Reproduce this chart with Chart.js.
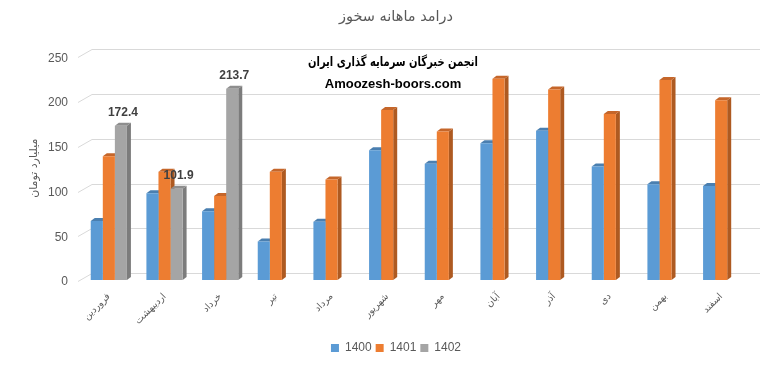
<!DOCTYPE html>
<html>
<head>
<meta charset="utf-8">
<script src="https://cdn.jsdelivr.net/npm/chart.js@4.4.1/dist/chart.umd.min.js"></script>
<style>
  html, body { margin: 0; padding: 0; background: #ffffff; }
  #wrap { width: 784px; height: 366px; }
</style>
</head>
<body>
<div id="wrap"><canvas id="c" width="784" height="366"></canvas></div>
<script>
const categories = ['فروردین', 'اردیبهشت', 'خرداد', 'تیر', 'مرداد', 'شهریور', 'مهر', 'آبان', 'آذر', 'دی', 'بهمن', 'اسفند'];
const seriesNames = ['1400', '1401', '1402'];
const values1400 = [66, 97, 77, 43, 65, 145, 130, 153, 167, 127, 107, 105];
const values1401 = [138.5, 121, 94, 121, 112.5, 190, 166, 225, 213, 185.5, 223.5, 201];
const values1402 = [172.4, 101.9, 213.7, null, null, null, null, null, null, null, null, null];
const yTickValues = [0, 50, 100, 150, 200, 250];
const chartTitle = 'درامد ماهانه سخوز';
const yAxisTitle = 'میلیارد تومان';
const watermark1 = 'انجمن خبرگان سرمایه گذاری ایران';
const watermark2 = 'Amoozesh-boors.com';

const frontColors = ['#5B9BD5', '#ED7D31', '#A5A5A5'];
const sideColors = ['#41719C', '#AE5A21', '#7C7C7C'];
const topColors = ['#4A7FB0', '#C5662A', '#8E8E8E'];

const threeD = {
  id: 'threeD',
  beforeDatasetsDraw(chart) {
    const ctx = chart.ctx;
    const ys = chart.scales.y;
    const area = chart.chartArea;
    ctx.save();
    ctx.strokeStyle = '#D9D9D9';
    ctx.lineWidth = 1;
    yTickValues.forEach(v => {
      const yf = Math.round(ys.getPixelForValue(v)) + 0.5;
      ctx.beginPath();
      ctx.moveTo(area.left - 3, yf + 1);
      ctx.lineTo(area.left + 11, yf - 7);
      ctx.lineTo(area.right + 11, yf - 7);
      ctx.stroke();
    });
    const d = 4, dy = 3;
    chart.data.datasets.forEach((ds, i) => {
      const meta = chart.getDatasetMeta(i);
      meta.data.forEach((el, j) => {
        if (ds.data[j] == null) return;
        const p = el.getProps(['x', 'y', 'base', 'width'], true);
        const xl = p.x - p.width / 2, xr = p.x + p.width / 2;
        ctx.fillStyle = sideColors[i];
        ctx.beginPath();
        ctx.moveTo(xr, p.y);
        ctx.lineTo(xr + d, p.y - dy);
        ctx.lineTo(xr + d, p.base - dy);
        ctx.lineTo(xr, p.base);
        ctx.closePath();
        ctx.fill();
        ctx.fillStyle = topColors[i];
        ctx.beginPath();
        ctx.moveTo(xl, p.y);
        ctx.lineTo(xl + d, p.y - dy);
        ctx.lineTo(xr + d, p.y - dy);
        ctx.lineTo(xr, p.y);
        ctx.closePath();
        ctx.fill();
      });
    });
    ctx.restore();
  },
  afterDatasetsDraw(chart) {
    const ctx = chart.ctx;
    ctx.save();
    const meta = chart.getDatasetMeta(2);
    ctx.fillStyle = '#404040';
    ctx.font = 'bold 12px "Liberation Sans", Arial, sans-serif';
    ctx.textAlign = 'center';
    ctx.textBaseline = 'middle';
    meta.data.forEach((el, j) => {
      const v = values1402[j];
      if (v == null) return;
      const p = el.getProps(['x', 'y'], true);
      ctx.fillText(v.toFixed(1), p.x + 2, p.y - 13);
    });
    ctx.fillStyle = '#000000';
    ctx.font = 'bold 13px "DejaVu Sans", sans-serif';
    ctx.fillText(watermark1, 393, 63, 170);
    ctx.font = 'bold 13px "Liberation Sans", Arial, sans-serif';
    ctx.fillText(watermark2, 393, 84);
    ctx.restore();
  }
};

new Chart(document.getElementById('c'), {
  type: 'bar',
  plugins: [threeD],
  data: {
    labels: categories,
    datasets: [
      { label: seriesNames[0], data: values1400, backgroundColor: frontColors[0] },
      { label: seriesNames[1], data: values1401, backgroundColor: frontColors[1] },
      { label: seriesNames[2], data: values1402, backgroundColor: frontColors[2] }
    ]
  },
  options: {
    responsive: false,
    animation: false,
    categoryPercentage: 0.65,
    barPercentage: 1.0,
    layout: { padding: { left: 24, right: 16, top: 0, bottom: 2 } },
    plugins: {
      title: {
        display: true,
        text: chartTitle,
        color: '#595959',
        font: { size: 14.5, weight: 'normal', family: '"DejaVu Sans", sans-serif' },
        padding: { top: 9, bottom: 30 }
      },
      legend: {
        position: 'bottom',
        labels: {
          boxWidth: 8, boxHeight: 8, padding: 4,
          color: '#595959',
          font: { size: 12, family: '"Liberation Sans", Arial, sans-serif' }
        }
      },
      tooltip: { enabled: false }
    },
    scales: {
      x: {
        grid: { display: false },
        border: { display: false },
        ticks: {
          minRotation: 45, maxRotation: 45,
          color: '#595959',
          font: { size: 9.5, family: '"DejaVu Sans", sans-serif' }
        },
        afterFit(s) { s.height = 58; }
      },
      y: {
        min: 0, max: 250,
        grid: { display: false, drawTicks: false },
        border: { display: false },
        ticks: {
          stepSize: 50, padding: 13, labelOffset: 2,
          color: '#595959',
          font: { size: 12, family: '"Liberation Sans", Arial, sans-serif' }
        },
        title: {
          display: true, text: yAxisTitle, color: '#595959',
          font: { size: 11, family: '"DejaVu Sans", sans-serif' },
          padding: { top: 4, bottom: 4 }
        },
        afterFit(s) { s.width = 57; }
      },
      yRight: {
        position: 'right',
        display: true,
        grid: { display: false, drawTicks: false },
        border: { display: false },
        ticks: { display: false },
        afterFit(s) { s.width = 19; }
      }
    }
  }
});
</script>
</body>
</html>
